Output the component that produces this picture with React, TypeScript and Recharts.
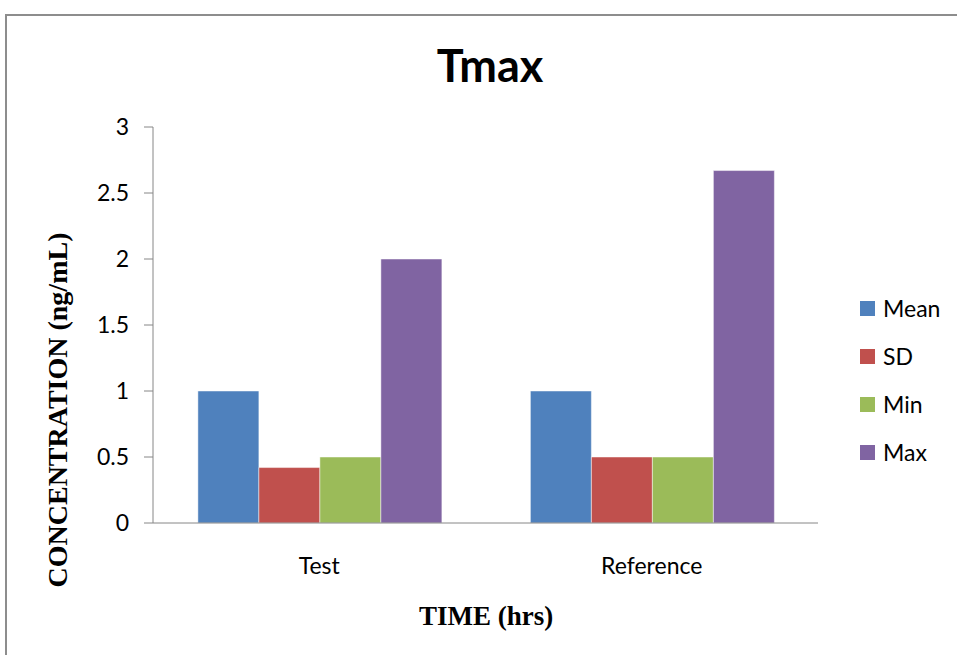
import React from 'react';
import { BarChart, Bar, XAxis, YAxis, Legend } from 'recharts';

const categories = ['Test', 'Reference'];
const meanValues = [1, 1];
const sdValues = [0.42, 0.5];
const minValues = [0.5, 0.5];
const maxValues = [2, 2.67];
const yTicks = [0, 0.5, 1, 1.5, 2, 2.5, 3];
const seriesNames = ['Mean', 'SD', 'Min', 'Max'];
const seriesKeys = ['mean', 'sd', 'min', 'max'];
const seriesColors = ['#4F81BD', '#C0504D', '#9BBB59', '#8064A2'];
const edgeTicks = [0, 1, 2];

const data = categories.map((c, i) => ({
  category: c,
  mean: meanValues[i],
  sd: sdValues[i],
  min: minValues[i],
  max: maxValues[i],
}));

const AXIS = '#868686';
const SANS = 'Lato, "Open Sans", sans-serif';
const SERIF = '"Liberation Serif", "DejaVu Serif", serif';

const LegendContent = () => (
  <div style={{ fontFamily: SANS, fontSize: 23, color: '#000' }}>
    {seriesNames.map((n, i) => (
      <div key={n} style={{ display: 'flex', alignItems: 'center', height: 48 }}>
        <span style={{ display: 'inline-block', width: 15, height: 15, background: seriesColors[i], marginRight: 8 }} />
        <span>{n}</span>
      </div>
    ))}
  </div>
);

export default function App() {
  return (
    <div style={{ position: 'absolute', left: 0, top: 0, width: 957, height: 655, overflow: 'hidden', background: '#fff' }}>
      <div style={{ position: 'absolute', left: 5, top: 14, width: 1000, height: 700, border: '2px solid #8d8d8d' }} />
      <div style={{ position: 'absolute', left: 0, top: 0 }}>
        <BarChart
          width={957}
          height={655}
          data={data}
          margin={{ top: 127, right: 139, bottom: 72, left: 0 }}
          barCategoryGap="13.5%"
          barGap={0}
        >
          <XAxis
            xAxisId="edge"
            type="number"
            domain={[0, 2]}
            allowDataOverflow
            ticks={edgeTicks}
            height={0}
            tickSize={9}
            axisLine={false}
            tickLine={{ stroke: AXIS }}
            tickFormatter={() => ''}
          />
          <XAxis
            dataKey="category"
            height={60}
            axisLine={{ stroke: AXIS }}
            tickLine={false}
            tickSize={0}
            tickMargin={35}
            tick={{ fill: '#000', fontSize: 23, fontFamily: SANS }}
          />
          <YAxis
            width={153}
            domain={[0, 3]}
            ticks={yTicks}
            interval={0}
            axisLine={{ stroke: AXIS }}
            tickLine={{ stroke: AXIS }}
            tickSize={9}
            tickMargin={15}
            tick={{ fill: '#000', fontSize: 23, fontFamily: SANS }}
          />
          <Legend
            layout="horizontal"
            verticalAlign="middle"
            align="center"
            content={<LegendContent />}
            wrapperStyle={{ left: 860, top: 284, width: 100 }}
          />
          {seriesKeys.map((k, i) => (
            <Bar
              key={k}
              dataKey={k}
              name={seriesNames[i]}
              fill={seriesColors[i]}
              stroke="#ffffff"
              strokeOpacity={0.6}
              strokeWidth={0.8}
              isAnimationActive={false}
            />
          ))}
        </BarChart>
      </div>
      <div style={{ position: 'absolute', left: 290, width: 400, top: 38, textAlign: 'center', fontFamily: SANS, fontWeight: 700, fontSize: 45, lineHeight: '54px', color: '#000' }}>
        Tmax
      </div>
      <div style={{ position: 'absolute', left: 286, width: 400, top: 600, textAlign: 'center', fontFamily: SERIF, fontWeight: 700, fontSize: 27, lineHeight: '32px', color: '#000' }}>
        TIME (hrs)
      </div>
      <div style={{ position: 'absolute', left: 58 - 250, width: 500, top: 410 - 16, textAlign: 'center', fontFamily: SERIF, fontWeight: 700, fontSize: 28, lineHeight: '32px', color: '#000', transform: 'rotate(-90deg)', transformOrigin: '250px 16px', whiteSpace: 'nowrap' }}>
        CONCENTRATION (ng/mL)
      </div>
    </div>
  );
}
